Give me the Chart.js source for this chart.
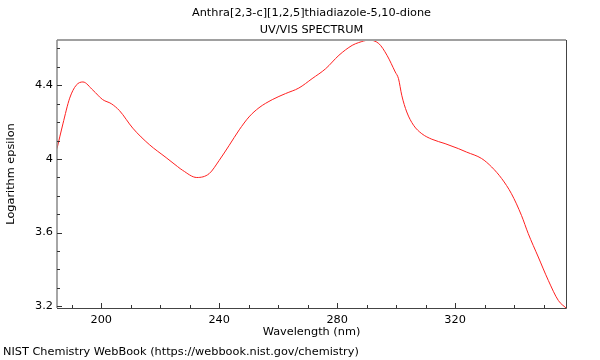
<!DOCTYPE html>
<html>
<head>
<meta charset="utf-8">
<script src="https://cdn.jsdelivr.net/npm/chart.js@4"></script>
<style>
html,body{margin:0;padding:0;background:#fff;}
canvas{display:block;}
</style>
</head>
<body>
<canvas id="c" width="600" height="360"></canvas>
<script>
const titleLines = ["Anthra[2,3-c][1,2,5]thiadiazole-5,10-dione", "UV/VIS SPECTRUM"];
const xTitle = "Wavelength (nm)";
const yTitle = "Logarithm epsilon";
const footer = "NIST Chemistry WebBook (https://webbook.nist.gov/chemistry)";

const wavelengths = [185, 187, 189.3, 191.5, 193.8, 197.2, 200.5, 203.4, 206.2, 210.7, 216.3, 222, 225.9, 227.6, 232.4, 236.6, 240, 243.4, 246.8, 250.1, 253.5, 258, 262.5, 267, 271.5, 276.1, 280.6, 285.1, 287.3, 290.7, 294.1, 296.9, 299.7, 300.8, 301.9, 303.6, 305.9, 308.7, 312.1, 316.6, 321.1, 323.9, 329, 332.4, 335.8, 339.1, 342.5, 344.8, 348.2, 351.6, 355, 357.6];
const logEps = [4.056, 4.19, 4.33, 4.40, 4.418, 4.373, 4.322, 4.30, 4.262, 4.167, 4.078, 4.007, 3.958, 3.938, 3.899, 3.92, 3.992, 4.074, 4.158, 4.228, 4.278, 4.322, 4.355, 4.385, 4.436, 4.49, 4.563, 4.617, 4.632, 4.645, 4.627, 4.563, 4.472, 4.436, 4.346, 4.255, 4.183, 4.137, 4.107, 4.083, 4.056, 4.037, 4.002, 3.956, 3.893, 3.811, 3.693, 3.594, 3.467, 3.34, 3.231, 3.19];

const xMajorTicks = [200, 240, 280, 320];
const xMinorTicks = [190, 200, 210, 220, 230, 240, 250, 260, 270, 280, 290, 300, 310, 320, 330, 340, 350];
const yMajorTicks = [3.2, 3.6, 4, 4.4];
const yMinorTicks = [3.2, 3.3, 3.4, 3.5, 3.6, 3.7, 3.8, 3.9, 4.0, 4.1, 4.2, 4.3, 4.4, 4.5, 4.6];

const FONT = "DejaVu Sans";
const FS = 11.3;

const decor = {
  id: 'decor',
  afterDraw(chart) {
    const ctx = chart.ctx;
    const a = chart.chartArea;
    const xs = chart.scales.x, ys = chart.scales.y;
    ctx.save();
    // frame
    ctx.lineWidth = 2;
    ctx.strokeStyle = '#a0a0a0';
    ctx.beginPath(); ctx.moveTo(a.left, a.top); ctx.lineTo(a.right, a.top); ctx.stroke();
    ctx.lineWidth = 1.5;
    ctx.strokeStyle = '#888';
    ctx.beginPath(); ctx.moveTo(a.left, a.top); ctx.lineTo(a.left, a.bottom); ctx.stroke();
    ctx.lineWidth = 1;
    ctx.strokeStyle = '#444';
    ctx.beginPath(); ctx.moveTo(a.right + 0.5, a.top); ctx.lineTo(a.right + 0.5, a.bottom + 0.5); ctx.stroke();
    ctx.beginPath(); ctx.moveTo(a.left, a.bottom + 0.5); ctx.lineTo(a.right + 0.5, a.bottom + 0.5); ctx.stroke();
    // inward ticks
    ctx.strokeStyle = '#333';
    ctx.lineWidth = 1;
    xMinorTicks.forEach(v => {
      const px = Math.round(xs.getPixelForValue(v)) + 0.5;
      const len = xMajorTicks.includes(v) ? 5 : 3;
      ctx.beginPath(); ctx.moveTo(px, a.bottom); ctx.lineTo(px, a.bottom - len); ctx.stroke();
    });
    yMinorTicks.forEach(v => {
      const py = Math.round(ys.getPixelForValue(v)) + 0.5;
      const len = yMajorTicks.some(t => Math.abs(t - v) < 1e-6) ? 5 : 3;
      ctx.beginPath(); ctx.moveTo(a.left, py); ctx.lineTo(a.left + len, py); ctx.stroke();
    });
    // texts
    ctx.fillStyle = '#000';
    ctx.font = FS + 'px "' + FONT + '"';
    ctx.textAlign = 'center';
    ctx.textBaseline = 'middle';
    const cx = (a.left + a.right) / 2;
    ctx.fillText(titleLines[0], cx, 13);
    ctx.fillText(titleLines[1], cx, 30);
    ctx.fillText(xTitle, cx, 332);
    ctx.save();
    ctx.translate(11, (a.top + a.bottom) / 2);
    ctx.rotate(-Math.PI / 2);
    ctx.fillText(yTitle, 0, 0);
    ctx.restore();
    ctx.textAlign = 'left';
    ctx.fillText(footer, 3, 352);
    ctx.restore();
  }
};

new Chart(document.getElementById('c'), {
  type: 'line',
  data: {
    datasets: [{
      data: wavelengths.map((w, i) => ({x: w, y: logEps[i]})),
      borderColor: '#ff2020',
      borderWidth: 1,
      pointRadius: 0,
      cubicInterpolationMode: 'monotone',
      fill: false
    }]
  },
  options: {
    responsive: false,
    animation: false,
    devicePixelRatio: 1,
    layout: {padding: {top: 40, right: 34, left: 0, bottom: 0}},
    plugins: {legend: {display: false}, tooltip: {enabled: false}, title: {display: false}},
    scales: {
      x: {
        type: 'linear',
        min: 185,
        max: 357.6,
        grid: {display: false, drawTicks: false},
        border: {display: false},
        ticks: {color: '#000', font: {family: FONT, size: FS}, padding: 5, callback: v => String(v)},
        afterBuildTicks: s => { s.ticks = xMajorTicks.map(v => ({value: v})); },
        afterFit: s => { s.height = 52; }
      },
      y: {
        type: 'linear',
        min: 3.19,
        max: 4.646,
        grid: {display: false, drawTicks: false},
        border: {display: false},
        ticks: {color: '#000', font: {family: FONT, size: FS}, padding: 4, callback: v => String(v)},
        afterBuildTicks: s => { s.ticks = yMajorTicks.map(v => ({value: v})); },
        afterFit: s => { s.width = 57; }
      }
    }
  },
  plugins: [decor]
});
</script>
</body>
</html>
